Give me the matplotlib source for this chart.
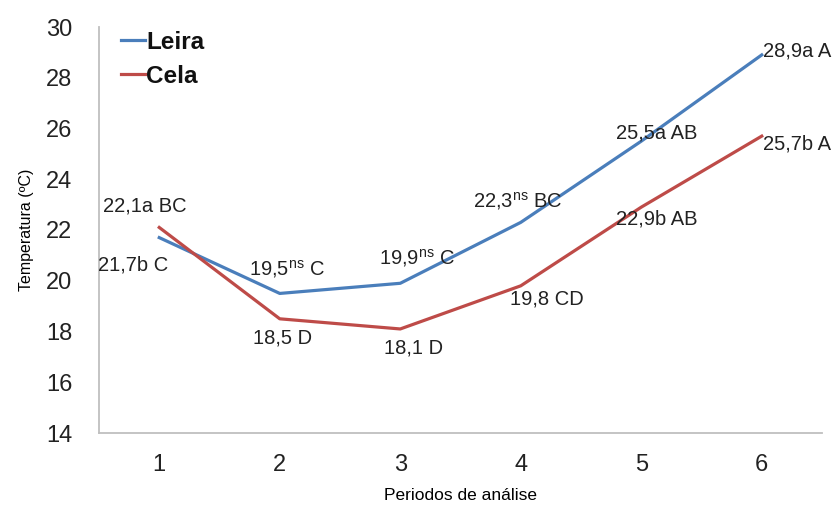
#!/usr/bin/env python
# -*- coding: utf-8 -*-

"""
Temperatura media por periodo de analise, leira vs cela
"""

import matplotlib
matplotlib.use('Agg')
import matplotlib.pyplot as plt


# dados
periodos = [1, 2, 3, 4, 5, 6]
leira = [21.7, 19.5, 19.9, 22.3, 25.5, 28.9]
cela = [22.1, 18.5, 18.1, 19.8, 22.9, 25.7]

# letras de comparacao (ns = nao significativo)
leira_sig = ['b C', '$^{\\mathrm{ns}}$ C', '$^{\\mathrm{ns}}$ C',
             '$^{\\mathrm{ns}}$ BC', 'a AB', 'a A']
cela_sig = ['a BC', ' D', ' D', ' CD', 'b AB', 'b A']

yticks = [14, 16, 18, 20, 22, 24, 26, 28, 30]


def fmt(v):
    return ('%.1f' % v).replace('.', ',')


def main():

    plt.rcParams['font.family'] = ['Liberation Sans', 'DejaVu Sans']
    plt.rcParams['mathtext.fontset'] = 'custom'
    plt.rcParams['mathtext.rm'] = 'Liberation Sans'
    plt.rcParams['mathtext.it'] = 'Liberation Sans:italic'
    plt.rcParams['mathtext.bf'] = 'Liberation Sans:bold'

    fig = plt.figure(figsize=(8.35, 5.07), dpi=100)
    fig.patch.set_facecolor('white')
    ax = fig.add_axes([99. / 835, 74. / 507, 723. / 835, 406. / 507])

    ax.plot(periodos, leira, color='#4A7EBB', lw=2.3, label='Leira')
    ax.plot(periodos, cela, color='#BE4B48', lw=2.3, label='Cela')

    ax.set_xlim(0.5, 6.5)
    ax.set_ylim(14, 30)
    ax.set_xticks(periodos)
    ax.set_yticks(yticks)
    ax.tick_params(axis='both', length=0, labelsize=17, colors='#222222')
    ax.tick_params(axis='y', pad=19)
    ax.tick_params(axis='x', pad=15)

    for s in ['top', 'right']:
        ax.spines[s].set_visible(False)
    for s in ['left', 'bottom']:
        ax.spines[s].set_color('#BFBFBF')
        ax.spines[s].set_linewidth(1.3)

    ax.set_ylabel('Temperatura (ºC)', fontsize=11.5, labelpad=9)
    ax.set_xlabel('Periodos de análise', fontsize=12.5, labelpad=9)

    # deslocamento dos rotulos (pixels) em relacao ao ponto
    leira_off = [(-26, -27), (7, 24), (17, 25), (-3, 21), (15, 8), (1, 4)]
    cela_off = [(-14, 21), (3, -19), (13, -19), (26, -13), (16, -12), (1, -8)]

    for i, x in enumerate(periodos):
        for vals, sig, off in [(leira, leira_sig, leira_off),
                               (cela, cela_sig, cela_off)]:
            ha = 'left' if i == len(periodos) - 1 else 'center'
            ax.annotate(fmt(vals[i]) + sig[i], xy=(x, vals[i]),
                        xytext=off[i], textcoords='offset pixels',
                        ha=ha, va='center', fontsize=14.5,
                        color='#222222', annotation_clip=False)

    leg = ax.legend(loc='upper left', bbox_to_anchor=(0.0, 1.045),
                    frameon=False, handlelength=1.0, handletextpad=0.05,
                    labelspacing=0.45, borderaxespad=0.5,
                    prop={'weight': 'bold', 'size': 17.5})
    for t in leg.get_texts():
        t.set_color('#111111')

    fig.savefig('out.png', dpi=100, facecolor='white')


if __name__ == "__main__":

    main()
